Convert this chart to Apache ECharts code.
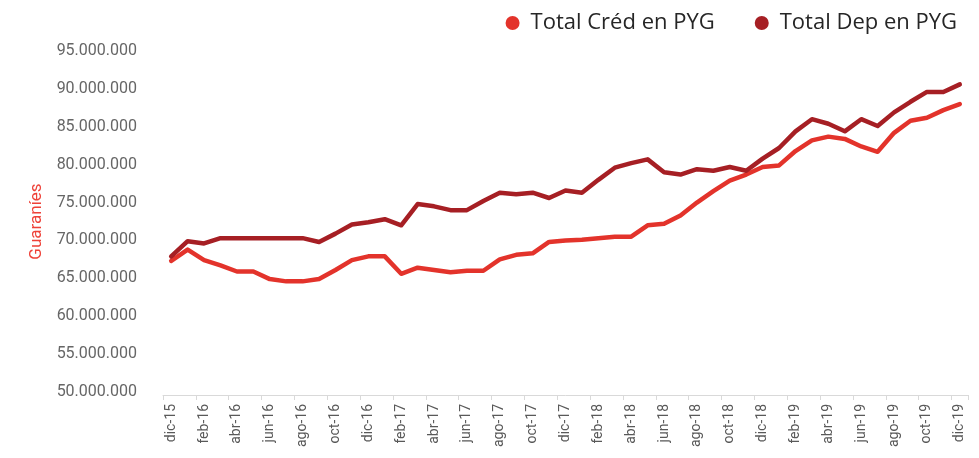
<!DOCTYPE html>
<html>
<head>
<meta charset="utf-8">
<script src="https://cdn.jsdelivr.net/npm/echarts@6/dist/echarts.min.js"></script>
<style>
html,body{margin:0;padding:0;background:#fff;}
#chart{width:979px;height:458px;}
</style>
</head>
<body>
<div id="chart"></div>
<script>
const categories = [
  'dic-15','ene-16','feb-16','mar-16','abr-16','may-16','jun-16','jul-16','ago-16','sep-16','oct-16','nov-16',
  'dic-16','ene-17','feb-17','mar-17','abr-17','may-17','jun-17','jul-17','ago-17','sep-17','oct-17','nov-17',
  'dic-17','ene-18','feb-18','mar-18','abr-18','may-18','jun-18','jul-18','ago-18','sep-18','oct-18','nov-18',
  'dic-18','ene-19','feb-19','mar-19','abr-19','may-19','jun-19','jul-19','ago-19','sep-19','oct-19','nov-19',
  'dic-19'
];
// values in millions of guaraníes
const totalCred = [
  67.3, 68.8, 67.4, 66.7, 65.9, 65.9, 64.9, 64.6, 64.6, 64.9, 66.1, 67.4,
  67.9, 67.9, 65.6, 66.4, 66.1, 65.8, 66.0, 66.0, 67.5, 68.1, 68.3, 69.8,
  70.0, 70.1, 70.3, 70.5, 70.5, 72.0, 72.2, 73.3, 75.0, 76.5, 77.9, 78.7,
  79.7, 79.9, 81.8, 83.2, 83.7, 83.4, 82.4, 81.7, 84.2, 85.8, 86.2, 87.2,
  88.0
];
const totalDep = [
  67.9, 69.9, 69.6, 70.3, 70.3, 70.3, 70.3, 70.3, 70.3, 69.8, 70.9, 72.1,
  72.4, 72.8, 72.0, 74.8, 74.5, 74.0, 74.0, 75.2, 76.3, 76.1, 76.3, 75.6,
  76.6, 76.3, 78.0, 79.6, 80.2, 80.7, 79.0, 78.7, 79.4, 79.2, 79.7, 79.2,
  80.8, 82.2, 84.4, 86.0, 85.4, 84.4, 86.0, 85.1, 86.9, 88.3, 89.6, 89.6,
  90.6
];
const seriesNames = ['Total Créd en PYG', 'Total Dep en PYG'];
const yMin = 50000000, yMax = 95000000, yStep = 5000000;

function fmt(v){
  return String(Math.round(v)).replace(/\B(?=(\d{3})+(?!\d))/g, '.');
}

const chart = echarts.init(document.getElementById('chart'), null, {renderer:'canvas'});
chart.setOption({
  animation:false,
  backgroundColor:'#ffffff',
  color:['#e3332b','#a61f24'],
  legend:{
    top:7, right:17,
    icon:'circle', itemWidth:14, itemHeight:14, itemGap:40,
    textStyle:{fontFamily:'Open Sans', fontSize:22, color:'#262626', padding:[0,0,0,6]},
    data:seriesNames
  },
  grid:{left:163, right:11, top:51, bottom:66, containLabel:false},
  xAxis:{
    type:'category',
    data:categories,
    boundaryGap:true,
    offset:3,
    axisLine:{lineStyle:{color:'#d9d9d9', width:1}},
    axisTick:{show:true, interval:1, length:5, lineStyle:{color:'#d9d9d9'}},
    axisLabel:{interval:1, rotate:90, margin:9, color:'#595959', fontFamily:'Roboto', fontSize:14}
  },
  yAxis:{
    type:'value',
    min:yMin, max:yMax, interval:yStep,
    name:'Guaraníes', nameLocation:'middle', nameRotate:90, nameGap:117,
    nameTextStyle:{color:'#ee4138', fontFamily:'Roboto', fontSize:17},
    axisLine:{show:false}, axisTick:{show:false}, splitLine:{show:false},
    axisLabel:{margin:26, color:'#666666', fontFamily:'Roboto', fontSize:16, formatter:fmt}
  },
  series:[
    {name:seriesNames[0], type:'line', data:totalCred.map(v=>v*1e6), symbol:'none',
     lineStyle:{width:4.5, color:'#e3332b', cap:'round', join:'round'}, itemStyle:{color:'#e3332b'}, z:2},
    {name:seriesNames[1], type:'line', data:totalDep.map(v=>v*1e6), symbol:'none',
     lineStyle:{width:4.5, color:'#a61f24', cap:'round', join:'round'}, itemStyle:{color:'#a61f24'}, z:3}
  ]
});
</script>
</body>
</html>
